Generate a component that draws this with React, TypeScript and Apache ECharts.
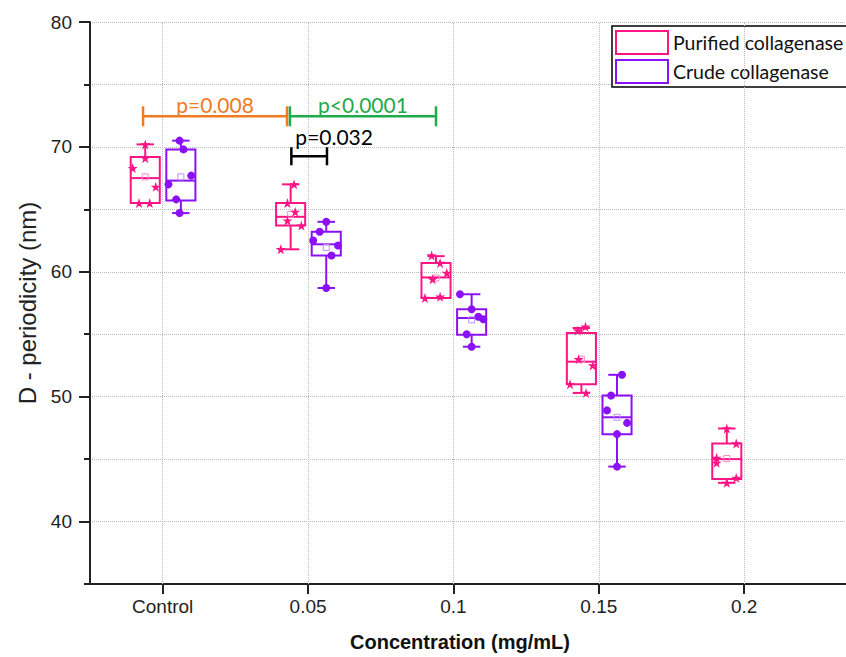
import React, { useEffect, useRef } from 'react';
import * as echarts from 'echarts';

// ---------- data ----------
const categories = ['Control', '0.05', '0.1', '0.15', '0.2'];
const seriesNames = ['Purified collagenase', 'Crude collagenase'];
const yMajorTicks = [40, 50, 60, 70, 80];

// box statistics per concentration: [min, Q1, median, Q3, max, mean]
const purifiedBox = [
  [65.5, 65.5, 67.5, 69.2, 70.2, 67.6],
  [61.8, 63.7, 64.4, 65.5, 67.0, 64.6],
  [57.9, 57.9, 59.55, 60.7, 61.25, 59.5],
  [50.3, 51.0, 52.8, 55.1, 55.5, 53.0],
  [43.1, 43.4, 45.0, 46.25, 47.45, 45.05],
];
const crudeBox = [
  [64.7, 65.7, 67.3, 69.8, 70.5, 67.6],
  [58.7, 61.3, 62.2, 63.2, 64.0, 61.95],
  [54.0, 54.95, 56.3, 57.0, 58.2, 56.15],
  [44.4, 47.0, 48.35, 50.1, 51.75, 48.35],
];

// individual measurements
const purifiedPoints = [
  [70.2, 69.1, 68.3, 66.8, 65.5, 65.5],
  [67.0, 65.5, 64.8, 64.1, 63.7, 61.8],
  [61.3, 60.7, 59.9, 59.4, 58.0, 57.9],
  [55.6, 55.3, 53.0, 52.5, 51.0, 50.3],
  [47.45, 46.25, 45.1, 44.7, 43.5, 43.1],
];
const crudePoints = [
  [70.5, 69.8, 67.7, 67.0, 65.8, 64.7],
  [64.0, 63.2, 62.5, 62.1, 61.3, 58.7],
  [58.2, 57.0, 56.4, 56.2, 55.0, 54.0],
  [51.75, 50.1, 48.9, 47.9, 47.0, 44.4],
];
// horizontal jitter of each point, as a fraction of the half box width
const purifiedJitter = [
  [0, 0, -0.86, 0.72, -0.43, 0.31],
  [0.24, -0.22, 0.31, -0.22, 0.74, -0.68],
  [-0.3, 0.28, 0.74, -0.23, 0.28, -0.76],
  [0.28, -0.25, -0.19, 0.78, -0.78, 0.32],
  [0, 0.65, -0.7, -0.7, 0.65, 0],
];
const crudeJitter = [
  [-0.09, 0.18, 0.71, -0.85, -0.32, -0.09],
  [0, -0.45, -0.9, 0.81, 0.36, 0],
  [-0.8, 0, 0.46, 0.8, -0.34, 0],
  [0.34, -0.41, -0.69, 0.69, 0, 0],
];

// significance brackets: [x start, x end, y level]
const bracketData = [
  [-0.135, 0.855, 72.45],
  [0.875, 1.88, 72.45],
  [0.885, 1.13, 69.25],
];
const bracketLabels = ['p=0.008', 'p<0.0001', 'p=0.032'];

// ---------- styles ----------
const PINK = '#FF1485';
const PURPLE = '#8A10F5';
const PINK_MEAN = '#FF8CC6';
const PURPLE_MEAN = '#C38CFA';
const bracketColors = ['#F07A22', '#1FAA4B', '#000000'];
const bracketAlign = ['center', 'center', 'left'];
const bracketRise = [12, 12, 20];
const bracketHalfBar = [10, 10, 9];
const BOX_W = 0.2;
const OFF_P = -0.12;
const OFF_C = 0.125;
const STAR =
  'path://M50,0 L61.8,35.1 L98.9,35.1 L68.9,56.8 L80.4,91.9 L50,70.2 L19.6,91.9 L31.1,56.8 L1.1,35.1 L38.2,35.1 Z';
const AXIS_FONT = 'Liberation Sans, Arial, sans-serif';
const NOTE_FONT = 'Lato, Carlito, sans-serif';

function boxRenderer(offset: number, color: string, meanColor: string) {
  return (params: any, api: any) => {
    const xv = api.value(0) + offset;
    const mn = api.value(1);
    const q1 = api.value(2);
    const md = api.value(3);
    const q3 = api.value(4);
    const mx = api.value(5);
    const mean = api.value(6);
    const bw = api.size([BOX_W, 0])[0];
    const hw = bw / 2;
    const capHw = hw * 0.6;
    const P = (v: number) => api.coord([xv, v]);
    const cx = P(md)[0];
    const yMin = P(mn)[1];
    const yQ1 = P(q1)[1];
    const yMd = P(md)[1];
    const yQ3 = P(q3)[1];
    const yMax = P(mx)[1];
    const yMean = P(mean)[1];
    const st = { stroke: color, lineWidth: 2, fill: null };
    return {
      type: 'group',
      children: [
        { type: 'line', shape: { x1: cx, y1: yQ3, x2: cx, y2: yMax }, style: st },
        { type: 'line', shape: { x1: cx, y1: yQ1, x2: cx, y2: yMin }, style: st },
        { type: 'line', shape: { x1: cx - capHw, y1: yMax, x2: cx + capHw, y2: yMax }, style: st },
        { type: 'line', shape: { x1: cx - capHw, y1: yMin, x2: cx + capHw, y2: yMin }, style: st },
        {
          type: 'rect',
          shape: { x: cx - hw, y: yQ3, width: bw, height: yQ1 - yQ3 },
          style: { stroke: color, lineWidth: 2, fill: 'rgba(255,255,255,0)' },
        },
        { type: 'line', shape: { x1: cx - hw, y1: yMd, x2: cx + hw, y2: yMd }, style: st },
        {
          type: 'rect',
          shape: { x: cx - 3, y: yMean - 3, width: 6, height: 6 },
          style: { stroke: meanColor, lineWidth: 1, fill: 'rgba(255,255,255,0)' },
        },
      ],
    };
  };
}

function bracketRenderer(params: any, api: any) {
  const i = params.dataIndex;
  const p1 = api.coord([api.value(0), api.value(2)]);
  const p2 = api.coord([api.value(1), api.value(2)]);
  const color = bracketColors[i];
  const h = bracketHalfBar[i];
  const st = { stroke: color, lineWidth: 2.5, fill: null };
  const tx = bracketAlign[i] === 'center' ? (p1[0] + p2[0]) / 2 : p1[0] + 4;
  return {
    type: 'group',
    children: [
      { type: 'line', shape: { x1: p1[0], y1: p1[1], x2: p2[0], y2: p2[1] }, style: st },
      { type: 'line', shape: { x1: p1[0], y1: p1[1] - h, x2: p1[0], y2: p1[1] + h }, style: st },
      { type: 'line', shape: { x1: p2[0], y1: p2[1] - h, x2: p2[0], y2: p2[1] + h }, style: st },
      {
        type: 'text',
        x: tx,
        y: p1[1] - bracketRise[i],
        style: {
          text: bracketLabels[i],
          fill: color,
          font: '21px ' + NOTE_FONT,
          align: bracketAlign[i],
          verticalAlign: 'middle',
        },
      },
    ],
  };
}

export default function App() {
  const ref = useRef<HTMLDivElement>(null);

  useEffect(() => {
    if (!ref.current) return;
    const chart = echarts.init(ref.current, undefined, { renderer: 'svg' });

    const pinkBoxRows = purifiedBox.map((r, i) => [i, ...r]);
    const purpleBoxRows = crudeBox.map((r, i) => [i, ...r]);
    const pinkPts = purifiedPoints.flatMap((vals, ci) =>
      vals.map((v, k) => [ci + OFF_P + (purifiedJitter[ci][k] * BOX_W) / 2, v])
    );
    const purplePts = crudePoints.flatMap((vals, ci) =>
      vals.map((v, k) => [ci + OFF_C + (crudeJitter[ci][k] * BOX_W) / 2, v])
    );
    const catIdx = categories.map((_, i) => i);

    const option: any = {
      animation: false,
      backgroundColor: '#ffffff',
      grid: { left: 90, top: 22, right: 0, bottom: 70, containLabel: false },
      legend: {
        orient: 'vertical',
        left: 612,
        top: 26,
        padding: [4, 14, 3, 3],
        itemGap: 4,
        itemWidth: 52,
        itemHeight: 23,
        icon: 'rect',
        borderColor: '#000',
        borderWidth: 1.5,
        backgroundColor: '#fff',
        selectedMode: false,
        textStyle: { fontFamily: NOTE_FONT, fontSize: 19.5, color: '#111' },
        data: [
          { name: seriesNames[0], itemStyle: { color: '#fff', borderColor: PINK, borderWidth: 2 } },
          { name: seriesNames[1], itemStyle: { color: '#fff', borderColor: PURPLE, borderWidth: 2 } },
        ],
      },
      xAxis: {
        type: 'value',
        min: -0.5,
        max: 4.7,
        name: 'Concentration (mg/mL)',
        nameLocation: 'middle',
        nameGap: 48,
        nameTextStyle: {
          fontFamily: AXIS_FONT,
          fontSize: 20,
          fontWeight: 'bold',
          color: '#111',
          padding: [0, 16, 0, 0],
        },
        axisLine: { show: true, onZero: false, lineStyle: { color: '#222', width: 2 } },
        axisTick: { show: true, customValues: catIdx, length: 10, lineStyle: { color: '#222', width: 2 } },
        axisLabel: {
          customValues: catIdx,
          formatter: (v: number) => categories[Math.round(v)] ?? '',
          fontFamily: AXIS_FONT,
          fontSize: 19,
          color: '#222',
          margin: 13,
        },
        splitLine: { show: false },
      },
      yAxis: [
        {
          type: 'value',
          min: 35,
          max: 80,
          interval: 5,
          position: 'left',
          name: 'D - periodicity (nm)',
          nameLocation: 'middle',
          nameGap: 44,
          nameTextStyle: { fontFamily: AXIS_FONT, fontSize: 24, color: '#222' },
          axisLine: { show: true, onZero: false, lineStyle: { color: '#222', width: 2 } },
          axisTick: { show: true, length: 6, lineStyle: { color: '#222', width: 2 } },
          axisLabel: {
            formatter: (v: number) => (v % 10 === 0 ? String(v) : ''),
            fontFamily: AXIS_FONT,
            fontSize: 19,
            color: '#222',
            margin: 18,
          },
          splitLine: { show: true, lineStyle: { type: 'dotted', color: '#b8b8b8', width: 1 } },
        },
        {
          type: 'value',
          min: 35,
          max: 80,
          interval: 5,
          position: 'left',
          axisLine: { show: false, onZero: false },
          axisTick: { show: true, customValues: yMajorTicks, length: 11, lineStyle: { color: '#222', width: 2 } },
          axisLabel: { show: false },
          splitLine: { show: false },
        },
      ],
      series: [
        {
          name: seriesNames[0],
          type: 'custom',
          renderItem: boxRenderer(OFF_P, PINK, PINK_MEAN),
          data: pinkBoxRows,
          encode: { x: 0, y: [1, 2, 3, 4, 5] },
          itemStyle: { color: PINK },
          z: 3,
        },
        {
          name: seriesNames[1],
          type: 'custom',
          renderItem: boxRenderer(OFF_C, PURPLE, PURPLE_MEAN),
          data: purpleBoxRows,
          encode: { x: 0, y: [1, 2, 3, 4, 5] },
          itemStyle: { color: PURPLE },
          z: 3,
        },
        {
          name: seriesNames[0],
          type: 'scatter',
          data: pinkPts,
          symbol: STAR,
          symbolSize: 10,
          itemStyle: { color: PINK, opacity: 1 },
          z: 4,
          markLine: {
            silent: true,
            symbol: ['none', 'none'],
            label: { show: false },
            lineStyle: { type: 'dotted', color: '#b8b8b8', width: 1 },
            data: catIdx.map((i) => ({ xAxis: i })),
          },
        },
        {
          name: seriesNames[1],
          type: 'scatter',
          data: purplePts,
          symbol: 'circle',
          symbolSize: 8,
          itemStyle: { color: PURPLE, opacity: 1 },
          z: 4,
        },
        {
          name: 'significance',
          type: 'custom',
          renderItem: bracketRenderer,
          data: bracketData,
          encode: { x: [0, 1], y: 2 },
          z: 5,
        },
      ],
    };

    chart.setOption(option);
    return () => chart.dispose();
  }, []);

  return (
    <div
      ref={ref}
      style={{ position: 'fixed', left: 0, top: 0, width: 846, height: 657, background: '#fff' }}
    />
  );
}
